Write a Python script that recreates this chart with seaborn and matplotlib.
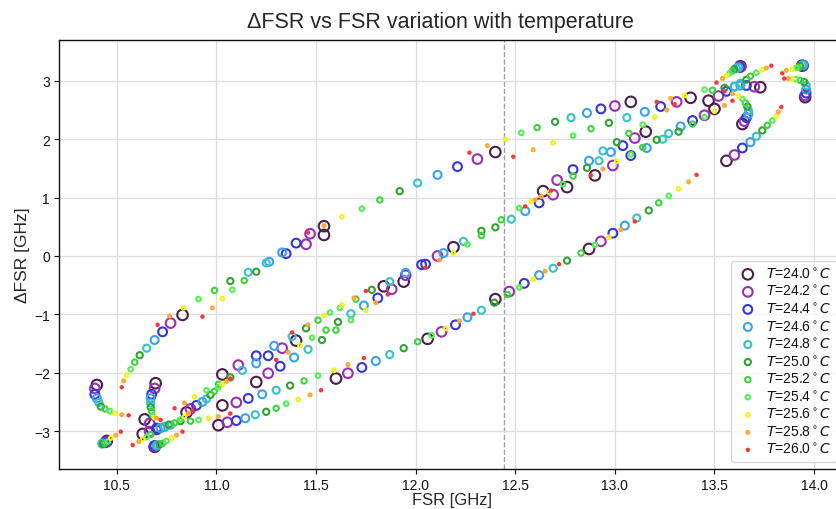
import matplotlib
matplotlib.use('Agg')
import matplotlib.pyplot as plt
import seaborn as sns
import pandas as pd

# temperatures and their styles
temps = [24.0, 24.2, 24.4, 24.6, 24.8, 25.0, 25.2, 25.4, 25.6, 25.8, 26.0]
colors = ['#4a1f4c', '#9a2fb4', '#3535d8', '#3aa0f0', '#35c2c8', '#2fa32f',
          '#3fd23f', '#55f055', '#f2f020', '#ffa830', '#ff3434']
sizes = [58, 48, 40, 33, 26, 20, 15, 11, 7, 4.5, 2.8]

# each track: one resonance followed over the 11 temperatures (24.0 -> 26.0)
# None = no point visible at that temperature
# upper branch
u1_fsr = [10.40, 10.39, 10.39, 10.40, 10.41, 10.42, 10.44, 10.465, 10.49, 10.525, 10.56]
u1_dfsr = [-2.21, -2.27, -2.37, -2.44, -2.51, -2.58, -2.62, -2.66, -2.69, -2.72, -2.73]
u2_fsr = [10.83, 10.77, 10.73, 10.69, 10.65, 10.615, 10.59, 10.57, 10.55, 10.535, 10.525]
u2_dfsr = [-1.01, -1.15, -1.30, -1.44, -1.58, -1.70, -1.82, -1.94, -2.04, -2.14, -2.25]
u3_fsr = [11.54, 11.45, 11.35, 11.265, 11.16, 11.07, 10.99, 10.91, 10.835, 10.765, 10.705]
u3_dfsr = [0.36, 0.20, 0.04, -0.10, -0.28, -0.43, -0.59, -0.74, -0.89, -1.03, -1.18]
u4_fsr = [11.54, 11.47, 11.40, 11.33, 11.25, 11.20, 11.14, 11.08, 11.03, 10.98, 10.93]
u4_dfsr = [0.51, 0.38, 0.22, 0.06, -0.12, -0.27, -0.42, -0.58, -0.73, -0.89, -1.04]
u5_fsr = [12.40, 12.31, 12.21, 12.11, 12.01, 11.92, 11.82, 11.73, 11.63, 11.54, 11.46]
u5_dfsr = [1.78, 1.66, 1.53, 1.39, 1.25, 1.11, 0.96, 0.81, 0.67, 0.52, 0.40]
u6_fsr = [13.08, 13.00, 12.93, 12.86, 12.78, 12.70, 12.61, 12.53, 12.45, 12.36, 12.27]
u6_dfsr = [2.64, 2.57, 2.52, 2.45, 2.37, 2.30, 2.20, 2.11, 2.00, 1.89, 1.77]
u7_fsr = [13.38, 13.31, 13.23, 13.15, 13.06, 12.97, 12.88, 12.79, 12.69, 12.59, 12.49]
u7_dfsr = [2.71, 2.64, 2.56, 2.47, 2.37, 2.28, 2.18, 2.06, 1.94, 1.82, 1.70]
u8_fsr = [13.63, 13.63, 13.625, 13.62, 13.61, 13.60, 13.59, 13.575, 13.56, 13.54, 13.51]
u8_dfsr = [3.25, 3.24, 3.235, 3.23, 3.22, 3.20, 3.17, 3.13, 3.09, 3.04, 2.97]
u9_fsr = [13.73, 13.70, 13.66, 13.63, 13.60, 13.55, 13.49, 13.45, 13.35, 13.28, 13.21]
u9_dfsr = [2.89, 2.90, 2.92, 2.92, 2.90, 2.88, 2.84, 2.85, 2.75, 2.70, 2.64]

# lower branch
l1_fsr = [10.45, 10.445, 10.44, 10.43, 10.425, 10.43, 10.44, 10.455, 10.47, 10.495, 10.52]
l1_dfsr = [-3.17, -3.19, -3.20, -3.21, -3.22, -3.22, -3.21, -3.18, -3.12, -3.07, -3.01]
l2_fsr = [10.69, 10.69, 10.69, 10.70, 10.705, 10.715, 10.73, 10.75, 10.775, 10.80, 10.83]
l2_dfsr = [-3.27, -3.26, -3.25, -3.25, -3.24, -3.23, -3.21, -3.17, -3.12, -3.07, -3.01]
l3_fsr = [11.01, 11.055, 11.10, 11.145, 11.195, 11.25, 11.30, 11.35, 11.41, 11.47, 11.525]
l3_dfsr = [-2.90, -2.85, -2.82, -2.78, -2.72, -2.67, -2.61, -2.53, -2.46, -2.38, -2.30]
l4_fsr = [11.60, 11.66, 11.73, 11.80, 11.87, 11.94, 12.01, 12.08, 12.15, 12.22, 12.29]
l4_dfsr = [-2.10, -2.01, -1.91, -1.80, -1.69, -1.58, -1.47, -1.36, -1.24, -1.11, -0.99]
l5_fsr = [12.06, 12.13, 12.20, 12.26, 12.33, 12.395, 12.46, 12.52, 12.59, 12.65, 12.72]
l5_dfsr = [-1.42, -1.30, -1.18, -1.05, -0.93, -0.80, -0.66, -0.54, -0.40, -0.26, -0.14]
l6_fsr = [12.40, 12.47, 12.545, 12.62, 12.69, 12.76, 12.83, 12.90, 12.97, 13.03, 13.10]
l6_dfsr = [-0.74, -0.61, -0.47, -0.33, -0.21, -0.08, 0.05, 0.19, 0.32, 0.45, 0.59]
l7_fsr = [12.87, 12.93, 12.99, 13.05, 13.11, 13.17, 13.22, 13.27, 13.32, 13.37, 13.41]
l7_dfsr = [0.12, 0.25, 0.39, 0.52, 0.65, 0.78, 0.91, 1.03, 1.15, 1.27, 1.39]
l8_fsr = [13.56, 13.60, 13.64, 13.68, 13.71, 13.74, 13.765, 13.79, 13.81, 13.82, 13.835]
l8_dfsr = [1.63, 1.73, 1.85, 1.95, 2.05, 2.15, 2.24, 2.32, 2.40, 2.47, 2.55]
l9_fsr = [None, None, None, None, None, None, 10.67, 10.65, 10.63, 10.61, 10.58]
l9_dfsr = [None, None, None, None, None, None, -3.06, -3.10, -3.14, -3.18, -3.24]

# middle branch
m1_fsr = [10.695, 10.69, 10.675, 10.67, 10.67, 10.67, 10.675, 10.68, 10.69, 10.70, 10.72]
m1_dfsr = [-2.18, -2.27, -2.37, -2.44, -2.52, -2.59, -2.66, -2.73, -2.77, -2.78, -2.81]
m2_fsr = [10.64, 10.665, 10.70, 10.74, 10.77, 10.82, 10.87, 10.91, 10.96, 11.01, 11.07]
m2_dfsr = [-2.80, -2.87, -2.95, -2.93, -2.90, -2.83, -2.83, -2.81, -2.78, -2.75, -2.70]
m3_fsr = [10.63, 10.665, 10.70, 10.72, 10.74, 10.76, 10.79, 10.82, 10.84, 10.86, 10.88]
m3_dfsr = [-3.05, -3.01, -2.98, -2.95, -2.92, -2.89, -2.86, -2.80, -2.75, -2.70, -2.65]
m4_fsr = [10.85, 10.87, 10.90, 10.93, 10.95, 10.97, 10.99, 11.01, 11.03, 11.05, 11.07]
m4_dfsr = [-2.68, -2.62, -2.56, -2.50, -2.45, -2.38, -2.32, -2.25, -2.20, -2.15, -2.10]
m5_fsr = [11.03, 11.10, 11.16, 11.23, 11.30, 11.37, 11.44, 11.51, 11.59, 11.66, 11.74]
m5_dfsr = [-2.56, -2.51, -2.44, -2.37, -2.30, -2.22, -2.14, -2.05, -1.96, -1.86, -1.75]
m6_fsr = [11.03, 11.11, 11.20, 11.29, 11.38, 11.45, 11.51, 11.57, 11.63, 11.69, 11.75]
m6_dfsr = [-2.03, -1.87, -1.71, -1.54, -1.38, -1.24, -1.10, -0.97, -0.84, -0.72, -0.60]
m7_fsr = [11.20, 11.26, 11.32, 11.39, 11.46, 11.53, 11.60, 11.675, 11.75, 11.80, 11.86]
m7_dfsr = [-2.16, -2.01, -1.89, -1.74, -1.60, -1.44, -1.27, -1.10, -0.93, -0.80, -0.66]
m8_fsr = [11.40, 11.33, 11.26, 11.20, 11.13, 11.07, 11.01, 10.95, 10.89, 10.84, 10.79]
m8_dfsr = [-1.45, -1.58, -1.71, -1.84, -1.96, -2.08, -2.20, -2.30, -2.41, -2.52, -2.61]
m9_fsr = [11.94, 11.88, 11.81, 11.74, 11.675, 11.61, 11.55, 11.48, 11.42, 11.36, 11.30]
m9_dfsr = [-0.44, -0.57, -0.72, -0.85, -0.99, -1.13, -1.27, -1.40, -1.53, -1.65, -1.78]
m10_fsr = [12.19, 12.11, 12.05, 11.95, 11.87, 11.78, 11.70, 11.62, 11.54, 11.46, 11.38]
m10_dfsr = [0.15, 0.00, -0.14, -0.29, -0.44, -0.58, -0.74, -0.89, -1.02, -1.18, -1.31]
m11_fsr = [11.84, 11.95, 12.03, 12.14, 12.24, 12.33, 12.43, 12.52, 12.58, 12.63, 12.68]
m11_dfsr = [-0.52, -0.33, -0.15, 0.05, 0.25, 0.43, 0.62, 0.82, 0.93, 1.02, 1.12]
m12_fsr = [12.76, 12.69, 12.62, 12.55, 12.48, 12.40, 12.33, 12.26, 12.19, 12.12, 12.05]
m12_dfsr = [1.18, 1.05, 0.91, 0.77, 0.63, 0.49, 0.35, 0.20, 0.05, -0.07, -0.20]
m13_fsr = [12.64, 12.71, 12.79, 12.87, 12.94, 13.01, 13.07, 13.14, 13.20, 13.26, 13.30]
m13_dfsr = [1.11, 1.30, 1.48, 1.63, 1.80, 1.95, 2.10, 2.25, 2.38, 2.50, 2.60]
m14_fsr = [12.90, 12.99, 13.08, 13.16, 13.24, 13.32, 13.39, 13.45, 13.50, 13.55, 13.59]
m14_dfsr = [1.38, 1.55, 1.72, 1.85, 2.00, 2.13, 2.26, 2.38, 2.48, 2.58, 2.66]
m15_fsr = [13.155, 13.10, 13.04, 12.98, 12.92, 12.86, 12.79, 12.74, 12.67, 12.60, 12.55]
m15_dfsr = [2.13, 2.02, 1.89, 1.78, 1.63, 1.51, 1.37, 1.23, 1.09, 0.96, 0.85]
m16_fsr = [13.47, 13.52, 13.56, 13.60, 13.63, 13.66, 13.68, 13.71, 13.74, 13.76, 13.785]
m16_dfsr = [2.66, 2.74, 2.82, 2.90, 2.96, 3.02, 3.08, 3.14, 3.19, 3.22, 3.26]
m17_fsr = [13.64, 13.65, 13.66, 13.67, 13.67, 13.665, 13.655, 13.64, 13.62, 13.59, 13.55]
m17_dfsr = [2.26, 2.31, 2.37, 2.43, 2.49, 2.56, 2.62, 2.69, 2.74, 2.78, 2.82]
m18_fsr = [13.50, 13.45, 13.39, 13.33, 13.27, 13.21, 13.14, 13.08, 13.01, 12.94, 12.88]
m18_dfsr = [2.52, 2.41, 2.32, 2.22, 2.10, 1.99, 1.86, 1.74, 1.62, 1.49, 1.38]

# right-hand folds
r1_fsr = [13.94, 13.945, 13.945, 13.945, 13.94, 13.93, 13.92, 13.91, 13.89, 13.86, 13.84]
r1_dfsr = [3.26, 3.26, 3.265, 3.27, 3.27, 3.25, 3.23, 3.22, 3.20, 3.18, 3.13]
r2_fsr = [13.955, 13.955, 13.96, 13.96, 13.96, 13.95, 13.93, 13.91, 13.89, 13.87, 13.85]
r2_dfsr = [2.72, 2.75, 2.79, 2.85, 2.92, 2.98, 3.01, 3.03, 3.04, 3.04, 3.04]

tracks = [
    (u1_fsr, u1_dfsr), (u2_fsr, u2_dfsr), (u3_fsr, u3_dfsr), (u4_fsr, u4_dfsr),
    (u5_fsr, u5_dfsr), (u6_fsr, u6_dfsr), (u7_fsr, u7_dfsr), (u8_fsr, u8_dfsr),
    (u9_fsr, u9_dfsr),
    (l1_fsr, l1_dfsr), (l2_fsr, l2_dfsr), (l3_fsr, l3_dfsr), (l4_fsr, l4_dfsr),
    (l5_fsr, l5_dfsr), (l6_fsr, l6_dfsr), (l7_fsr, l7_dfsr), (l8_fsr, l8_dfsr),
    (l9_fsr, l9_dfsr),
    (m1_fsr, m1_dfsr), (m2_fsr, m2_dfsr), (m3_fsr, m3_dfsr), (m4_fsr, m4_dfsr),
    (m5_fsr, m5_dfsr), (m6_fsr, m6_dfsr), (m7_fsr, m7_dfsr), (m8_fsr, m8_dfsr),
    (m9_fsr, m9_dfsr), (m10_fsr, m10_dfsr), (m11_fsr, m11_dfsr), (m12_fsr, m12_dfsr),
    (m13_fsr, m13_dfsr), (m14_fsr, m14_dfsr), (m15_fsr, m15_dfsr), (m16_fsr, m16_dfsr),
    (m17_fsr, m17_dfsr), (m18_fsr, m18_dfsr),
    (r1_fsr, r1_dfsr), (r2_fsr, r2_dfsr),
]

rows = []
for fsr, dfsr in tracks:
    for i, t in enumerate(temps):
        if fsr[i] is not None:
            rows.append((t, fsr[i], dfsr[i]))
df = pd.DataFrame(rows, columns=['temp', 'fsr', 'dfsr'])

sns.set_style('ticks')
plt.rcParams['font.family'] = ['Liberation Sans', 'DejaVu Sans']
plt.rcParams['mathtext.fontset'] = 'dejavusans'

fig = plt.figure(figsize=(8.36, 5.10), dpi=100)
ax = fig.add_axes([59 / 836, 40 / 510, 785 / 836, 429 / 510])

for t, c, s in zip(temps, colors, sizes):
    sub = df[df['temp'] == t]
    sns.scatterplot(data=sub, x='fsr', y='dfsr', color=c, facecolor='none',
                    edgecolor=c, s=s, linewidth=1.5,
                    label=r'$T$=%.1f$^\circ C$' % t, ax=ax)

ax.axvline(12.444, color='#a0a0a0', linestyle='--', linewidth=1.0, zorder=0)

ax.set_xlim(10.21, 14.15)
ax.set_ylim(-3.65, 3.70)
ax.set_xticks([10.5, 11.0, 11.5, 12.0, 12.5, 13.0, 13.5, 14.0])
ax.set_yticks([-3, -2, -1, 0, 1, 2, 3])
ax.grid(True, color='#dddddd', linewidth=0.9)
ax.set_axisbelow(True)
for sp in ax.spines.values():
    sp.set_color('#111111')
    sp.set_linewidth(1.0)
ax.tick_params(labelsize=10, colors='#111111', pad=3)

ax.set_title('ΔFSR vs FSR variation with temperature', fontsize=15.5, pad=9,
             x=0.486)
ax.set_xlabel('FSR [GHz]', fontsize=12, labelpad=0)
ax.set_ylabel('ΔFSR [GHz]', fontsize=12.5, labelpad=3)

leg = ax.legend(loc='lower right', fontsize=10, frameon=True, borderaxespad=0.5,
                handlelength=1.6, handletextpad=0.5, labelspacing=0.22)
for txt in leg.get_texts():
    txt.set_color('#111111')

fig.savefig('out.png', dpi=100)
